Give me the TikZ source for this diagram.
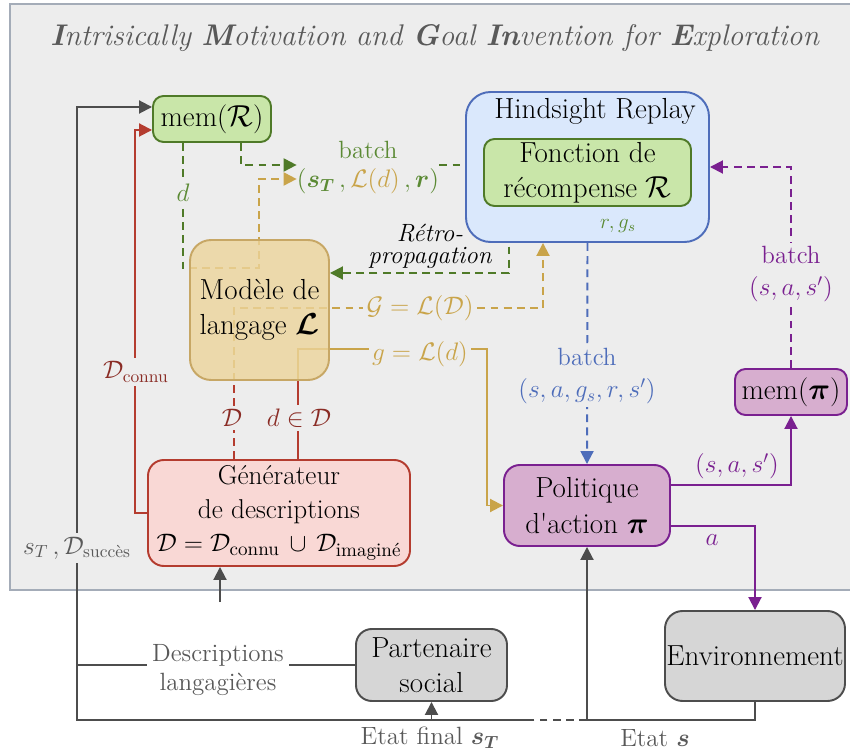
\documentclass[tikz,border=0pt]{standalone}
\usepackage{amsmath,amssymb}
\usetikzlibrary{arrows.meta}

\definecolor{panelbg}{HTML}{EDEDED}
\definecolor{panelln}{HTML}{A4ACB8}
\definecolor{grnfill}{HTML}{C9E6A9}
\definecolor{grnln}{HTML}{4F7A28}
\definecolor{grntxt}{HTML}{5B8A34}
\definecolor{bluefill}{HTML}{DAE8FC}
\definecolor{blueln}{HTML}{4E6DBA}
\definecolor{ylwfill}{HTML}{ECD49B}
\definecolor{ylwln}{HTML}{C9A44A}
\definecolor{ylwbox}{HTML}{C7A765}
\definecolor{redfill}{HTML}{F9D8D5}
\definecolor{redln}{HTML}{B43C2F}
\definecolor{redtxt}{HTML}{8A2C25}
\definecolor{purfill}{HTML}{D7AECF}
\definecolor{purln}{HTML}{7A2090}
\definecolor{grayfill}{HTML}{D6D6D6}
\definecolor{grayln}{HTML}{4D4D4D}
\definecolor{graytxt}{HTML}{595959}

\pgfdeclarelayer{panel}
\pgfdeclarelayer{links}
\pgfsetlayers{panel,links,main}

\tikzset{
  every node/.style={font=\fontsize{16.5}{20}\selectfont},
  box/.style={draw, line width=1.1pt, rounded corners=6pt, align=center, inner sep=0pt},
  lbl/.style={font=\fontsize{14.2}{17}\selectfont, fill=panelbg, inner sep=2pt, align=center},
  wire/.style={line width=1.1pt, >={Triangle[length=2.6mm,width=2.6mm]}},
  dwire/.style={wire, dash pattern=on 4.5pt off 3pt},
}

\begin{document}
\begin{tikzpicture}
            \useasboundingbox (0,0) rectangle (17,15.06);
            \begin{pgfonlayer}{panel}
                \fill[white] (0,0) rectangle (17,15.06);
                \draw[panelln, line width=1.2pt, fill=panelbg] (0.2,14.98) rectangle (17.1,3.26);
            \end{pgfonlayer}

            \node[font=\fontsize{17}{20}\selectfont, text=graytxt] (title) at (8.7,14.3)
                {\textit{\textbf{I}ntrisically \textbf{M}otivation and \textbf{G}oal \textbf{In}vention for \textbf{E}xploration}};

            %%draw the boxes
            \node[box, fill=grnfill, draw=grnln, minimum width=2.36cm, minimum height=0.92cm] (memr) at (4.24,12.68){mem($\mathcal{R}$)};
            \node[box, fill=bluefill, draw=blueln, rounded corners=14pt, minimum width=4.86cm, minimum height=3cm] (hr) at (11.75,11.72){};
                \node (hrtitle) at (11.9,12.84){Hindsight Replay};
            \node[box, fill=grnfill, draw=grnln, minimum width=4.14cm, minimum height=1.34cm] (fonc) at (11.75,11.61){Fonction de\\récompense $\mathcal{R}$};
            \node[box, fill=ylwfill, draw=ylwbox, fill opacity=0.8, text opacity=1, rounded corners=12pt, minimum width=2.78cm, minimum height=2.8cm] (model) at (5.19,8.86){Modèle de\\langage $\boldsymbol{\mathcal{L}}$};
            \node[box, fill=redfill, draw=redln, rounded corners=9pt, minimum width=5.24cm, minimum height=2.12cm, font=\fontsize{15.5}{19}\selectfont] (gen) at (5.58,4.8){Générateur\\de descriptions\\$\mathcal{D}=\mathcal{D}_{\text{connu}}\,\cup\,\mathcal{D}_{\text{imaginé}}$};
            \node[box, fill=purfill, draw=purln, rounded corners=9pt, minimum width=3.32cm, minimum height=1.62cm] (pol) at (11.74,4.95){Politique\\d\textquotesingle action $\boldsymbol{\pi}$};
            \node[box, fill=purfill, draw=purln, minimum width=2.24cm, minimum height=0.92cm] (mempi) at (15.82,7.22){mem($\boldsymbol{\pi}$)};
            \node[box, fill=grayfill, draw=grayln, rounded corners=9pt, minimum width=3.02cm, minimum height=1.44cm] (partner) at (8.63,1.76){Partenaire\\social};
            \node[box, fill=grayfill, draw=grayln, rounded corners=10pt, minimum width=3.6cm, minimum height=1.8cm] (env) at (15.1,1.94){Environnement};

            %%labels
            \node[lbl, fill=none, text=grntxt] (batchg) at (7.36,12.06){batch};
            \node[lbl, fill=none, text=grntxt, inner sep=0pt] (tuple) at (7.36,11.44){$(\boldsymbol{s_T}\,,{\color{ylwln}\mathcal{L}(d)}\,,\boldsymbol{r})$};
            \node[lbl, text=grntxt] (dlbl) at (3.66,11.2){$d$};
            \node[lbl, fill=none, font=\fontsize{14.2}{12.5}\selectfont\itshape] (retro) at (8.6,10.14){Rétro-\\propagation};
            \node[lbl, text=ylwln] (Glbl) at (8.4,8.9){$\mathcal{G}=\mathcal{L}(\mathcal{D})$};
            \node[lbl, text=ylwln] (glbl) at (8.4,7.98){$g=\mathcal{L}(d)$};
            \node[lbl, text=redtxt] (connu) at (2.72,7.62){$\mathcal{D}_{\text{connu}}$};
            \node[lbl, text=redtxt] (Dlbl) at (4.64,6.7){$\mathcal{D}$};
            \node[lbl, text=redtxt] (dinD) at (5.98,6.7){$d\in\mathcal{D}$};
            \node[lbl, fill=none, text=grntxt, font=\fontsize{11.5}{13}\selectfont] (rgs) at (12.36,10.54){$r,g_s$};
            \node[lbl, text=blueln, font=\fontsize{14.2}{18}\selectfont] (batchb) at (11.74,7.54){batch\\$(s,a,g_s,r,s')$};
            \node[lbl, text=purln, font=\fontsize{14.2}{18}\selectfont] (batchp) at (15.82,9.58){batch\\$(s,a,s')$};
            \node[lbl, fill=none, text=purln] (sas) at (14.74,5.74){$(s,a,s')$};
            \node[lbl, fill=none, text=purln] (albl) at (14.24,4.26){$a$};
            \node[lbl, text=graytxt] (stD) at (1.54,4.1){$s_T\,,\mathcal{D}_{\text{succès}}$};
            \node[lbl, fill=none, text=graytxt, inner sep=3pt] (desc) at (4.36,1.66){Descriptions\\langagières};
            \node[lbl, fill=none, text=graytxt] (efinal) at (8.6,0.3){Etat final $\boldsymbol{s_T}$};
            \node[lbl, fill=none, text=graytxt] (etat) at (13.1,0.3){Etat $\boldsymbol{s}$};

            %%draw the links
            \begin{pgfonlayer}{links}
            \coordinate (leftbus) at (1.54,0.66);
            \coordinate (stateln) at (11.74,0.66);
            \coordinate (finalend) at (10.54,0.66);
            \coordinate (descup) at (4.4,3.02);
            \draw[wire, grayln, ->] (env.south) |- (stateln) -- (pol.south);
            \draw[dwire, grayln] (stateln) -- (finalend);
            \draw[wire, grayln, ->] (finalend) -- (leftbus) |- ([yshift=0.24cm]memr.west);
            \draw[wire, grayln, ->] (partner.south |- leftbus) -- (partner.south);
            \draw[wire, grayln] (partner.west) -- (partner.west -| desc.east);
            \draw[wire, grayln] (desc.west |- partner.west) -- (leftbus |- partner.west);
            \draw[wire, grayln, ->] (descup) -- (descup |- gen.south);

            \coordinate (Dcol) at (4.68,0);
            \coordinate (dcol) at (5.96,0);
            \draw[wire, redln, ->] (gen.west) -- ++(-0.24,0) |- ([yshift=-0.22cm]memr.west);
            \draw[dwire, redln] (gen.north -| Dcol) -- (model.south -| Dcol);
            \draw[wire, redln] (gen.north -| dcol) -- (model.south -| dcol);

            \coordinate (gpath) at (9.74,8.08);
            \coordinate (Gpath) at (10.86,8.9);
            \draw[wire, ylwln, ->] (model.south -| dcol) |- (gpath) |- (pol.west);
            \draw[dwire, ylwln, ->] (model.south -| Dcol) |- (Gpath) -- (Gpath |- hr.south);

            \draw[dwire, grnln] ([xshift=-0.58cm]memr.south) |- ([yshift=0.84cm]model.west);
            \draw[dwire, ylwln, ->] ([yshift=0.84cm]model.west) -| ([xshift=-0.76cm,yshift=0.04cm]tuple.west) -- ([yshift=0.04cm]tuple.west);
            \draw[dwire, grnln, ->] ([xshift=0.58cm]memr.south) |- ([yshift=0.32cm]tuple.west);
            \coordinate (batchin) at ([yshift=0.32cm]tuple.east);
            \draw[dwire, grnln, ->] (batchin) -- (batchin -| fonc.west);
            \draw[dwire, grnln, ->] ([xshift=-1.57cm]fonc.south) |- ([yshift=0.74cm]model.east);
            \draw[wire, grnln, ->] (fonc.south) -- (fonc.south |- hr.south);

            \draw[dwire, blueln, ->] (hr.south) -- (pol.north);

            \draw[wire, purln, ->] ([yshift=0.41cm]pol.east) -| (mempi.south);
            \draw[wire, purln, ->] ([yshift=-0.41cm]pol.east) -| (env.north);
            \draw[dwire, purln, ->] (mempi.north) |- (hr.east);
            \end{pgfonlayer}
\end{tikzpicture}
\end{document}
